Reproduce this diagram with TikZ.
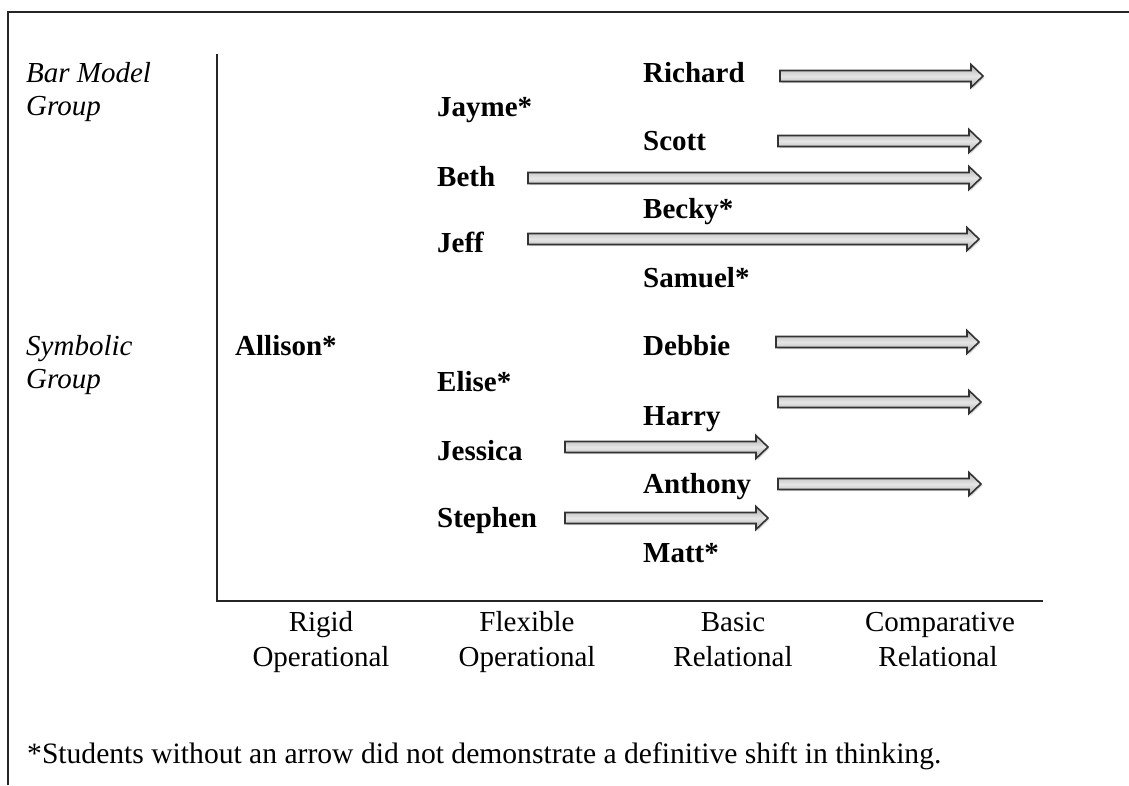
\documentclass[tikz,border=0pt]{standalone}
\usepackage{fontspec}
\setmainfont{Liberation Serif}
\usetikzlibrary{shadows}
\newcommand\blockarrow[3]{%
  \path[blockarrow] (#1,#3-5.5) -- (#2-12,#3-5.5) -- (#2-12,#3-11.5) -- (#2,#3)
    -- (#2-12,#3+11.5) -- (#2-12,#3+5.5) -- (#1,#3+5.5) -- cycle;}
\begin{document}
\begin{tikzpicture}[x=1pt,y=-1pt,
  stud/.style={font=\fontsize{29}{33}\selectfont\bfseries, anchor=base west, inner sep=0pt},
  grp/.style={font=\fontsize{29}{33}\selectfont\itshape, anchor=base west, inner sep=0pt},
  lvl/.style={font=\fontsize{29}{33}\selectfont, anchor=base, inner sep=0pt},
  note/.style={font=\fontsize{29.6}{33}\selectfont, anchor=base west, inner sep=0pt},
  blockarrow/.style={draw=black!80, line width=1.6pt, line join=miter,
    top color=gray!65, bottom color=gray!65, middle color=gray!20,
    drop shadow={opacity=0.3, shadow xshift=1.5pt, shadow yshift=-1.5pt}},
  frame/.style={line width=1.8pt, black!85},
  axis/.style={line width=1.6pt, black!85}]
\useasboundingbox (0,0) rectangle (1129,785);
% frame
\draw[frame] (8,785) -- (8,12) -- (1129,12);
% axes
\coordinate (ytop) at (217,54);
\coordinate (origin) at (217,601);
\coordinate (xend) at (1043,601);
\draw[axis] (ytop) -- (origin) -- (xend);
% group labels
\node[grp] (bm1) at (26,82) {Bar Model};
\node[grp] (bm2) at (26,115) {Group};
\node[grp] (sy1) at (26,355) {Symbolic};
\node[grp] (sy2) at (26,388) {Group};
% level labels
\node[lvl] (r1) at (321,631) {Rigid};
\node[lvl] (r2) at (321,666) {Operational};
\node[lvl] (f1) at (527,631) {Flexible};
\node[lvl] (f2) at (527,666) {Operational};
\node[lvl] (b1) at (733,631) {Basic};
\node[lvl] (b2) at (733,666) {Relational};
\node[lvl] (c1) at (940,631) {Comparative};
\node[lvl] (c2) at (938,666) {Relational};
% students
\node[stud] (richard) at (643,82) {Richard};
\node[stud] (jayme) at (437,116) {Jayme*};
\node[stud] (scott) at (643,150) {Scott};
\node[stud] (beth) at (437,186) {Beth};
\node[stud] (becky) at (643,218) {Becky*};
\node[stud] (jeff) at (437,252) {Jeff};
\node[stud] (samuel) at (643,287) {Samuel*};
\node[stud] (allison) at (235,355) {Allison*};
\node[stud] (debbie) at (643,355) {Debbie};
\node[stud] (elise) at (437,391) {Elise*};
\node[stud] (harry) at (643,425) {Harry};
\node[stud] (jessica) at (437,460) {Jessica};
\node[stud] (anthony) at (643,493) {Anthony};
\node[stud] (stephen) at (437,527) {Stephen};
\node[stud] (matt) at (643,562) {Matt*};
% arrows
\blockarrow{780}{983}{76}
\blockarrow{778}{981}{141}
\blockarrow{528}{981}{178}
\blockarrow{528}{979}{239}
\blockarrow{776}{979}{342}
\blockarrow{778}{981}{402}
\blockarrow{565}{768}{447}
\blockarrow{778}{981}{484}
\blockarrow{565}{768}{518}
% footnote
\node[note] (foot) at (27,763) {*Students without an arrow did not demonstrate a definitive shift in thinking.};
\end{tikzpicture}
\end{document}
